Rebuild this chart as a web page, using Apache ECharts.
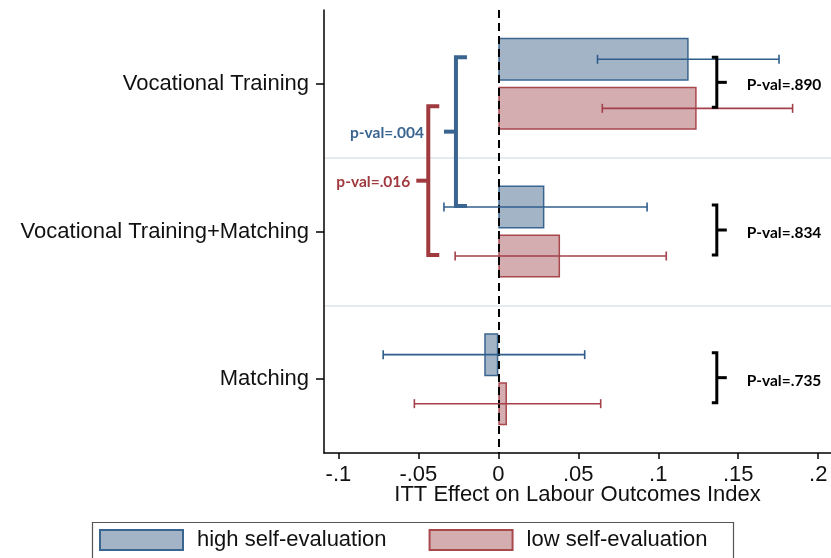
<!DOCTYPE html>
<html>
<head>
<meta charset="utf-8">
<script src="https://cdn.jsdelivr.net/npm/echarts@6/dist/echarts.min.js"></script>
<style>
  html, body { margin: 0; padding: 0; background: #fff; }
  #chart { width: 831px; height: 558px; }
</style>
</head>
<body>
<div id="chart"></div>
<script>
// data
const categories = ['Vocational Training', 'Vocational Training+Matching', 'Matching']
const highEffect = [0.119, 0.0288, -0.0088]
const lowEffect = [0.124, 0.0386, 0.0054]
const highCiLow = [0.062, -0.034, -0.072]
const highCiHigh = [0.1755, 0.093, 0.054]
const lowCiLow = [0.065, -0.027, -0.0525]
const lowCiHigh = [0.184, 0.105, 0.064]
const pairPvals = ['P-val=.890', 'P-val=.834', 'P-val=.735']
const crossPvals = ['p-val=.004', 'p-val=.016'] // VT vs VT+Matching, high / low
const xTicks = [-0.1, -0.05, 0, 0.05, 0.1, 0.15, 0.2]
const xTickLabels = ['-.1', '-.05', '0', '.05', '.1', '.15', '.2']

const BLUE = '#3b6591'
const BLUE_FILL = '#a3b4c6'
const BLUE_LINE = '#2f5e8c'
const RED = '#a8474c'
const RED_FILL = '#d3adb0'
const RED_LINE = '#a3404a'
const FONT = '"Liberation Sans", Arial, sans-serif'
const ROW = 0.166 // row offset inside a category band

const chart = echarts.init(document.getElementById('chart'))

const rowY = (api, cat, sign) => {
  const band = api.size([0, 1])[1]
  return api.coord([0, cat])[1] + sign * band * ROW
}

const errorBar = (sign, color) => (params, api) => {
  const cat = api.value(0)
  const y = rowY(api, cat, sign)
  const x1 = api.coord([api.value(1), cat])[0]
  const x2 = api.coord([api.value(2), cat])[0]
  const style = { stroke: color, lineWidth: 1.6 }
  return {
    type: 'group',
    children: [
      { type: 'line', shape: { x1: x1, y1: y, x2: x2, y2: y }, style: style },
      { type: 'line', shape: { x1: x1, y1: y - 4.5, x2: x1, y2: y + 4.5 }, style: style },
      { type: 'line', shape: { x1: x2, y1: y - 4.5, x2: x2, y2: y + 4.5 }, style: style }
    ]
  }
}

// bracket annotations
const bracketSpecs = [
  { x: 0.1366, a: 0, b: 0, sa: -1, sb: 1, side: 'right', label: pairPvals[0], color: '#000' },
  { x: 0.1366, a: 1, b: 1, sa: -1, sb: 1, side: 'right', label: pairPvals[1], color: '#000' },
  { x: 0.1366, a: 2, b: 2, sa: -1, sb: 1, side: 'right', label: pairPvals[2], color: '#000' },
  { x: -0.0265, a: 0, b: 1, sa: -1, sb: -1, side: 'left', label: crossPvals[0], color: BLUE, textGap: 32 },
  { x: -0.0438, a: 0, b: 1, sa: 1, sb: 1, side: 'left', label: crossPvals[1], color: '#a03a3f', textGap: 18 }
]

const renderBracket = (params, api) => {
  const s = bracketSpecs[params.dataIndex]
  const x = api.coord([s.x, 0])[0]
  const yA = rowY(api, s.a, s.sa) - 2
  const yB = rowY(api, s.b, s.sb) - 1
  const ym = (yA + yB) / 2
  const left = s.side === 'left'
  const hook = left ? 11 : -5
  const nib = left ? -12 : 10
  const lw = left ? 4 : 3
  const style = { stroke: s.color, lineWidth: lw, fill: null, lineJoin: 'miter' }
  return {
    type: 'group',
    children: [
      { type: 'polyline', shape: { points: [[x + hook, yA], [x, yA], [x, yB], [x + hook, yB]] }, style: style },
      { type: 'line', shape: { x1: x, y1: ym, x2: x + nib, y2: ym }, style: style },
      {
        type: 'text',
        style: {
          text: s.label,
          x: left ? x - s.textGap : x + 30,
          y: left ? ym + 1 : ym + 3,
          align: left ? 'right' : 'left',
          verticalAlign: 'middle',
          fill: s.color,
          fontSize: 15.5,
          fontWeight: 'bold',
          fontFamily: 'Lato, "Open Sans", sans-serif'
        }
      }
    ]
  }
}

const option = {
  backgroundColor: '#fff',
  animation: false,
  grid: { left: 324, right: 0, top: 10, bottom: 105, containLabel: false },
  xAxis: {
    type: 'value',
    min: -0.109,
    max: 0.208,
    name: 'ITT Effect on Labour Outcomes Index',
    nameLocation: 'middle',
    nameGap: 31,
    nameMoveOverlap: false,
    nameTextStyle: { color: '#111', fontSize: 22, fontFamily: FONT },
    axisLine: { show: true, onZero: false, lineStyle: { color: '#000', width: 1.5 } },
    axisTick: { show: true, length: 6, lineStyle: { color: '#000', width: 1.5 }, customValues: xTicks },
    axisLabel: {
      color: '#111',
      fontSize: 22,
      fontFamily: FONT,
      margin: 11,
      customValues: xTicks,
      formatter: (v) => xTickLabels[xTicks.findIndex(t => Math.abs(t - v) < 1e-9)] || ''
    },
    splitLine: { show: false }
  },
  yAxis: {
    type: 'category',
    inverse: true,
    data: categories,
    axisLine: { show: true, onZero: false, lineStyle: { color: '#000', width: 1.5 } },
    axisTick: { show: true, alignWithLabel: true, length: 8, lineStyle: { color: '#000', width: 1.5 } },
    axisLabel: { color: '#111', fontSize: 22, fontFamily: FONT, margin: 15 },
    splitLine: { show: true, showMinLine: false, showMaxLine: false, lineStyle: { color: '#e3ebef', width: 2 } }
  },
  legend: {
    data: ['high self-evaluation', 'low self-evaluation'],
    left: 99,
    top: 529,
    padding: 0,
    itemWidth: 83,
    itemHeight: 20,
    itemGap: 42,
    icon: 'rect',
    textStyle: { color: '#111', fontSize: 22, fontFamily: FONT, padding: [0, 0, 0, 9] }
  },
  graphic: [
    {
      type: 'rect',
      left: 90,
      top: 520,
      shape: { width: 641, height: 37 },
      style: { fill: 'none', stroke: '#555', lineWidth: 1.2 }
    }
  ],
  series: [
    {
      name: 'high self-evaluation',
      type: 'bar',
      data: highEffect,
      barWidth: 43,
      barGap: '14%',
      itemStyle: { color: BLUE_FILL, borderColor: BLUE, borderWidth: 1.5 },
      markLine: {
        silent: true,
        symbol: 'none',
        label: { show: false },
        lineStyle: { color: '#000', width: 2, type: [8, 5] },
        data: [{ xAxis: 0 }]
      },
      z: 2
    },
    {
      name: 'low self-evaluation',
      type: 'bar',
      data: lowEffect,
      barWidth: 43,
      barGap: '14%',
      itemStyle: { color: RED_FILL, borderColor: RED, borderWidth: 1.5 },
      z: 2
    },
    {
      type: 'custom',
      name: 'high CI',
      renderItem: errorBar(-1, BLUE_LINE),
      encode: { x: [1, 2], y: 0 },
      data: categories.map((c, i) => [i, highCiLow[i], highCiHigh[i]]),
      z: 5
    },
    {
      type: 'custom',
      name: 'low CI',
      renderItem: errorBar(1, RED_LINE),
      encode: { x: [1, 2], y: 0 },
      data: categories.map((c, i) => [i, lowCiLow[i], lowCiHigh[i]]),
      z: 5
    },
    {
      type: 'custom',
      name: 'brackets',
      renderItem: renderBracket,
      encode: { x: 0, y: 1 },
      data: bracketSpecs.map(s => [s.x, s.a]),
      z: 6
    }
  ]
}

chart.setOption(option)
</script>
</body>
</html>
